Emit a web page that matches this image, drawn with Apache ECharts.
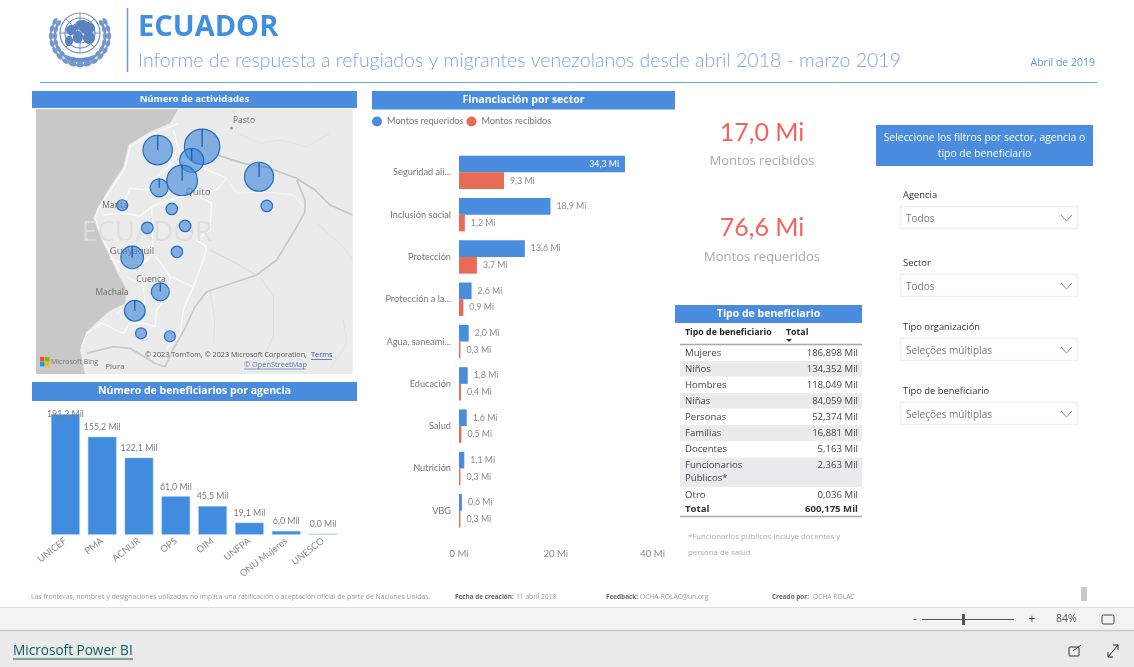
<!DOCTYPE html>
<html><head><meta charset="utf-8">
<style>html,body{margin:0;padding:0;background:#fff}#c{width:1134px;height:667px}</style>
<script src="https://cdn.jsdelivr.net/npm/echarts@6/dist/echarts.min.js"></script>
</head><body><div id="c"></div>
<script>
// ---- data
const sectorCats = ['Seguridad ali...','Inclusión social','Protección','Protección a la...','Agua, saneami...','Educación','Salud','Nutrición','VBG'];
const montosRequeridos = [34.3,18.9,13.6,2.6,2.0,1.8,1.6,1.1,0.6];
const montosRecibidos = [9.3,1.2,3.7,0.9,0.3,0.4,0.5,0.3,0.3];
const agencias = ['UNICEF','PMA','ACNUR','OPS','OIM','UNFPA','ONU Mujeres','UNESCO'];
const beneficiariosAgencia = [191.2,155.2,122.1,61.0,45.5,19.1,6.0,0.0];
const mapLon = [-79.21,-78.01,-78.29,-78.55,-76.47,-79.17,-80.17,-78.83,-76.26,-79.49,-78.47,-78.69,-79.90,-79.14,-79.83,-79.66,-78.88];
const mapLat = [0.71,0.80,0.43,-0.11,-0.01,-0.31,-0.78,-0.88,-0.80,-1.39,-1.34,-2.04,-2.19,-3.12,-3.63,-4.24,-4.32];
const mapActividades = [150,218,100,163,146,56,21,23,23,23,23,23,89,56,74,21,21];
const tablaTipos = ['Mujeres','Niños','Hombres','Niñas','Personas','Familias','Docentes','Funcionarios|Públicos*','Otro'];
const tablaTotales = ['186,898 Mil','134,352 Mil','118,049 Mil','84,059 Mil','52,374 Mil','16,881 Mil','5,163 Mil','2,363 Mil','0,036 Mil'];
const tablaTotal = '600,175 Mil';
const filtros = [['Agencia','Todos'],['Sector','Todos'],['Tipo organización','Seleções múltiplas'],['Tipo de beneficiario','Seleções múltiplas']];

// ---- page furniture helpers
const FONT = '"Open Sans","Noto Sans",sans-serif';
const LATO = 'Lato,"Open Sans",sans-serif';
const BLUE = '#4a8ddf';
const g = [];
function T(x,y,text,o){o=o||{};g.push({type:'text',x:x,y:y+1.3,z:o.z||1,style:{text:text,fill:o.c||'#777',font:(o.w||'normal')+' '+(o.s||10)+'px '+(o.f||FONT),textAlign:o.a||'left',textVerticalAlign:'middle',opacity:o.o==null?1:o.o}});}
function R(x,y,w,h,c,o){o=o||{};g.push({type:'rect',z:o.z||0,shape:{x:x,y:y,width:w,height:h},style:{fill:c,stroke:o.st||null,lineWidth:o.lw||0}});}
function L(x1,y1,x2,y2,c,w){g.push({type:'line',z:1,shape:{x1:x1,y1:y1,x2:x2,y2:y2},style:{stroke:c,lineWidth:w||1}});}
function Header(x,y,w,h,text,s){R(x,y,w,h,BLUE);T(x+w/2,y+h/2-1.5,text,{c:'#fff',w:'bold',s:s||10.5,a:'center'});}

// ---- title block
(function logo(){
  const cx=80,cy=33,c='#6a8ec8';
  [20,15,10,5].forEach(r=>g.push({type:'circle',z:1,shape:{cx:cx,cy:cy,r:r},style:{fill:'none',stroke:c,lineWidth:1.2}}));
  for(let i=0;i<8;i++){const a=i*Math.PI/4;L(cx,cy,cx+20*Math.cos(a),cy+20*Math.sin(a),c,0.9);}
  [[-9,-3,5,5],[-2,4,5,6],[-11,8,4,5],[7,-5,8,6],[9,5,6,6],[2,-10,6,3],[-3,-6,4,3]].forEach(b=>g.push({type:'ellipse',z:1,shape:{cx:cx+b[0],cy:cy+b[1],rx:b[2],ry:b[3]},style:{fill:'#5c82bf'}}));
  for(let s of [-1,1]) for(let r of [25,29]) for(let i=0;i<10;i++){
    const a=(i*15-30)*Math.PI/180;
    g.push({type:'ellipse',z:1,x:cx+s*r*Math.cos(a),y:cy+3+r*Math.sin(a),rotation:-s*a,shape:{cx:0,cy:0,rx:2.1,ry:3.9},style:{fill:'#7596cc'}});
  }
  L(68,61,92,57,c,1.6);L(68,57,92,61,c,1.6);
})();
L(127.5,8,127.5,72,'#5b9fe8',1.5);
T(138,26,'ECUADOR',{c:'#428fe0',w:'bold',s:29});
T(138,59,'Informe de respuesta a refugiados y migrantes venezolanos desde abril 2018 - marzo 2019',{c:'#7da6e3',s:19.5,f:LATO,w:'300'});
T(1095,62,'Abril de 2019',{c:'#5b97dc',s:10.5,a:'right'});
L(40,82.5,1097,82.5,'#62a3ea',1);

// ---- panel headers
Header(32,91,325,17,'Número de actividades',9.5);
Header(372,91,303,18.5,'Financiación por sector',10.5);
Header(32,382,325,19,'Número de beneficiarios por agencia',10.5);
Header(675,305,187,18,'Tipo de beneficiario',10.5);

// ---- basemap (decorative; drawn in a local 3x sketch space)
const base=[];
function poly(pts,fill){base.push({type:'polygon',shape:{points:pts},style:{fill:fill}});}
function line(pts,c,w){base.push({type:'polyline',shape:{points:pts},style:{stroke:c,lineWidth:w,fill:'none',lineJoin:'round'}});}
poly([[18,57],[968,57],[968,852],[18,852]],'#ebebeb');
poly([[18,57],[445,57],[420,100],[360,125],[295,165],[280,230],[240,290],[205,350],[190,385],[215,450],[240,500],[265,555],[290,600],[285,640],[235,665],[170,725],[150,780],[165,852],[18,852]],'#c8c8c8');
const W='#fbfbfb';
line([[445,100],[360,135],[300,170],[285,235],[245,295],[205,355],[195,385],[220,450],[245,500],[270,545]],W,4);
line([[430,120],[450,190],[415,230],[380,260],[360,300],[300,295],[285,330]],W,4);
line([[215,375],[280,370],[330,378],[365,350],[365,420],[370,490],[340,520],[280,520],[240,505]],W,4);
line([[365,350],[420,330],[490,310],[545,340],[540,420],[500,450],[530,470],[520,510],[490,590],[460,660],[450,740],[410,775]],W,4);
line([[370,490],[400,530],[420,560],[415,610],[380,660],[375,710],[345,700],[300,700],[280,730],[215,700],[170,730],[155,770]],W,3.5);
line([[420,560],[490,590]],W,3);
line([[290,560],[340,590],[345,640],[300,640],[260,670]],W,3);
line([[420,190],[520,235],[590,265],[560,300],[500,310]],W,3.5);
line([[590,265],[620,310],[700,305],[790,315],[830,360]],'#f6f6f6',3);
line([[560,195],[640,220],[710,232],[800,265],[855,300],[900,345],[968,375]],'#c4c4c4',5);
line([[800,270],[825,330],[825,365],[795,420],[740,510],[680,555],[530,605],[495,650],[465,715],[425,785],[405,830],[375,820],[300,775],[250,770],[170,790]],'#c8c8c8',5);
line([[540,480],[600,510],[680,555]],'#d6d6d6',3);
line([[540,605],[555,690],[550,760]],'#dadada',2);
line([[690,560],[730,620],[730,740],[700,800]],'#dadada',2);
line([[610,60],[625,130],[690,160],[750,150],[830,170],[900,130]],'#dedede',2);
line([[860,400],[940,470],[968,510]],'#dadada',2);
line([[940,690],[950,760],[900,840]],'#dedede',2);
g.push({type:'group',x:30,y:90,scaleX:1/3,scaleY:1/3,z:0,children:base.map(b=>Object.assign(b,{z:0}))});
T(147,232,'ECUADOR',{c:'#dddddd',s:28,a:'center',o:.9});
const mapText='#6e6e6e';
T(244,119,'Pasto',{c:mapText,s:8.5,a:'center'});
g.push({type:'circle',z:1,shape:{cx:231.5,cy:128,r:1.5},style:{fill:'#999'}});
T(198,191,'Quito',{c:mapText,s:9.5,a:'center'});
T(115,204,'Manta',{c:mapText,s:8.5,a:'center'});
T(132,250,'Guayaquil',{c:mapText,s:9.5,a:'center'});
T(151,278,'Cuenca',{c:mapText,s:8.5,a:'center'});
T(112,291,'Machala',{c:mapText,s:8.5,a:'center'});
T(115,365,'Piura',{c:mapText,s:8,a:'center'});
[['#f25022',40,357],['#7fba00',45,357],['#00a4ef',40,362],['#ffb900',45,362]].forEach(s=>R(s[1],s[2],4.5,4.5,s[0],{z:1}));
T(51,360.5,'Microsoft Bing',{c:'#777',s:7});
T(145,354,'© 2023 TomTom, © 2023 Microsoft Corporation,',{c:'#555',s:7.2});
T(311,354,'Terms',{c:'#3a50a0',s:7.4});L(311,359.5,332,359.5,'#3a50a0',.7);
T(244,363.5,'© OpenStreetMap',{c:'#5a70b8',s:7.4});L(244,369,306,369,'#5a70b8',.7);

// ---- KPIs
T(762,132,'17,0 Mi',{c:'#f1635f',s:25,a:'center',f:LATO});
T(762,160,'Montos recibidos',{c:'#a9a9a9',s:13,a:'center'});
T(762,227,'76,6 Mi',{c:'#f1635f',s:25,a:'center',f:LATO});
T(762,256,'Montos requeridos',{c:'#a9a9a9',s:13,a:'center'});

// ---- table
T(685,331,'Tipo de beneficiario',{c:'#222',w:'bold',s:8.8});
T(786,331,'Total',{c:'#222',w:'bold',s:8.8});
g.push({type:'polygon',z:1,shape:{points:[[786,339],[792,339],[789,342]]},style:{fill:'#333'}});
L(680,344.5,862,344.5,'#a8a8b0',1.3);
const rowH=[16,16,16,16,16,16.5,16,30,16];
let ry=345;
tablaTipos.forEach((name,i)=>{
  const h=rowH[i]; if(i%2===1) R(680,ry,182,h-.5,'#eaebee');
  const parts=name.split('|');
  parts.forEach((p,k)=>T(685,ry+6.5+k*13,p,{c:'#444',s:9.6}));
  T(858,ry+6.5,tablaTotales[i],{c:'#444',s:9.6,a:'right'});
  ry+=h;
});
T(685,508,'Total',{c:'#333',w:'bold',s:9.6});
T(858,508,tablaTotal,{c:'#333',w:'bold',s:9.6,a:'right'});
L(680,516.5,862,516.5,'#a8a8b0',1.3);
T(688,535,'*Funcionarios públicos incluye docentes y',{c:'#a8adb8',s:7.8});
T(688,551,'persona de salud',{c:'#a8adb8',s:7.8});

// ---- filters
R(876,125,217,41,BLUE);
T(984.5,137,'Seleccione los filtros por sector, agencia o',{c:'#fff',s:10.4,a:'center'});
T(984.5,153,'tipo de beneficiario',{c:'#fff',s:10.4,a:'center'});
[206,274,338,402].forEach((y,i)=>{
  T(903,y-12,filtros[i][0],{c:'#333',s:9.4});
  R(900.5,y+.5,177,22,'#fff',{st:'#f0f0f0',lw:1.5});
  T(906,y+12,filtros[i][1],{c:'#777',s:10});
  g.push({type:'polyline',z:1,shape:{points:[[1061,y+9],[1066.5,y+15],[1072,y+9]]},style:{stroke:'#888',lineWidth:1,fill:'none'}});
});

// ---- footer
const fc='#9a9a9a';
T(31,596,'Las fronteras, nombres y designaciones utilizadas no implica una ratificación o aceptación oficial de parte de Naciones Unidas.',{c:fc,s:6.8});
T(455,596,'Fecha de creación:',{c:'#666',s:6.4,w:'bold'});T(516,596,'11 abril 2018',{c:fc,s:6.7});
T(606,596,'Feedback:',{c:'#666',s:6.4,w:'bold'});T(640,596,'OCHA-ROLAC@un.org',{c:fc,s:6.7});
T(772,596,'Creado por:',{c:'#666',s:6.4,w:'bold'});T(813,596,'OCHA ROLAC',{c:fc,s:6.7});
R(1081,587,6,14,'#c8c8c8');
R(0,607,1134,23,'#f3f3f3');L(0,607.5,1134,607.5,'#e0e0e0',1);
R(0,630,1134,37,'#eaeaea');L(0,630.5,1134,630.5,'#c9c9c9',1.5);
T(913,618,'-',{c:'#444',s:12});
L(922,619.5,1014,619.5,'#555',1);R(962,614,3,11,'#555',{z:1});
T(1032,618,'+',{c:'#444',s:12,a:'center'});
T(1056,618,'84%',{c:'#555',s:10.5});
g.push({type:'rect',z:1,shape:{x:1102,y:615,width:12,height:9,r:1.5},style:{fill:'none',stroke:'#444',lineWidth:1}});
T(13,650,'Microsoft Power BI',{c:'#0b5f62',s:13.6});L(13,659,133,659,'#0b5f62',1);
g.push({type:'rect',z:1,shape:{x:1069,y:647,width:10,height:9,r:1},style:{fill:'none',stroke:'#333',lineWidth:1}});
g.push({type:'polyline',z:1,shape:{points:[[1073,651],[1081,645]]},style:{stroke:'#333',lineWidth:1,fill:'none'}});
g.push({type:'polyline',z:1,shape:{points:[[1108,657],[1118,645]]},style:{stroke:'#222',lineWidth:1,fill:'none'}});
g.push({type:'polyline',z:1,shape:{points:[[1108,652],[1108,657],[1113,657]]},style:{stroke:'#222',lineWidth:1,fill:'none'}});
g.push({type:'polyline',z:1,shape:{points:[[1113,645],[1118,645],[1118,650]]},style:{stroke:'#222',lineWidth:1,fill:'none'}});

// ---- chart
const mi=v=>v.toFixed(1).replace('.',',')+' Mi';
const mil=v=>v.toFixed(1).replace('.',',')+' Mil';
const chart=echarts.init(document.getElementById('c'),null,{renderer:'canvas'});
chart.setOption({
  animation:false,
  textStyle:{fontFamily:LATO},
  graphic:g,
  legend:{left:372,top:116.5,itemWidth:10,itemHeight:10,itemGap:3,padding:0,icon:'circle',
    textStyle:{color:'#777',fontSize:9.2,fontFamily:LATO,padding:[0,0,0,0]},data:['Montos requeridos','Montos recibidos']},
  grid:[
    {left:36,top:109,width:317,height:265},
    {left:47,top:408.5,width:294.4,height:126.2},
    {left:459,top:151.2,width:193.6,height:380.7}
  ],
  xAxis:[
    {gridIndex:0,type:'value',min:-82.5,max:-73.93,show:false},
    {gridIndex:1,type:'category',data:agencias,axisLine:{show:false},axisTick:{show:false},
      axisLabel:{interval:0,rotate:38,color:'#8a8a8a',fontSize:9.4,margin:5,fontFamily:LATO}},
    {gridIndex:2,type:'value',min:0,max:40,interval:20,splitLine:{show:false},axisLine:{show:false},axisTick:{show:false},
      axisLabel:{color:'#8a8a8a',fontSize:9.6,margin:17,fontFamily:LATO,formatter:v=>v+' Mi'}}
  ],
  yAxis:[
    {gridIndex:0,type:'value',min:-5.34,max:1.82,show:false},
    {gridIndex:1,type:'value',min:0,max:200,show:false},
    {gridIndex:2,type:'category',inverse:true,data:sectorCats,axisLine:{show:false},axisTick:{show:false},
      axisLabel:{interval:0,color:'#777',fontSize:9.2,margin:8,fontFamily:LATO}}
  ],
  series:[
    {type:'custom',name:'Actividades',xAxisIndex:0,yAxisIndex:0,clip:false,z:3,
      data:mapLon.map((x,i)=>[x,mapLat[i],mapActividades[i]]),
      renderItem:(p,api)=>{
        const c=api.coord([api.value(0),api.value(1)]), r=1.2*Math.sqrt(api.value(2));
        return {type:'group',children:[
          {type:'circle',shape:{cx:c[0],cy:c[1],r:r},style:{fill:'rgba(66,136,220,.62)',stroke:'#2470c0',lineWidth:1.2}},
          {type:'line',shape:{x1:c[0],y1:c[1],x2:c[0],y2:c[1]-r},style:{stroke:'#0e5ba8',lineWidth:r>7?1.2:0}}
        ]};
      }},
    {type:'bar',name:'Beneficiarios',xAxisIndex:1,yAxisIndex:1,barCategoryGap:'22%',barMinHeight:1,
      data:beneficiariosAgencia.map((v,i)=>i===0?{value:v,label:{distance:-5}}:(v===0?{value:v,itemStyle:{color:'#8fbdf0'}}:v)),
      itemStyle:{color:'#418cde',borderColor:'#a8cdf5',borderWidth:.5},
      label:{show:true,position:'top',distance:5,color:'#7d7d7d',fontSize:8.8,fontFamily:LATO,formatter:p=>mil(p.value)}},
    {type:'bar',name:'Montos requeridos',xAxisIndex:2,yAxisIndex:2,barWidth:16.7,barGap:0,
      data:montosRequeridos.map((v,i)=>i===0?{value:v,label:{position:'insideRight',color:'#fff',distance:6}}:v),
      itemStyle:{color:BLUE},
      label:{show:true,position:'right',distance:6,color:'#8a8a8a',fontSize:8.8,fontFamily:LATO,formatter:p=>mi(p.value)}},
    {type:'bar',name:'Montos recibidos',xAxisIndex:2,yAxisIndex:2,barWidth:16.7,barGap:0,
      data:montosRecibidos,
      itemStyle:{color:'#e76b55'},
      label:{show:true,position:'right',distance:6,color:'#8a8a8a',fontSize:8.8,fontFamily:LATO,formatter:p=>mi(p.value)}}
  ]
});
</script></body></html>
